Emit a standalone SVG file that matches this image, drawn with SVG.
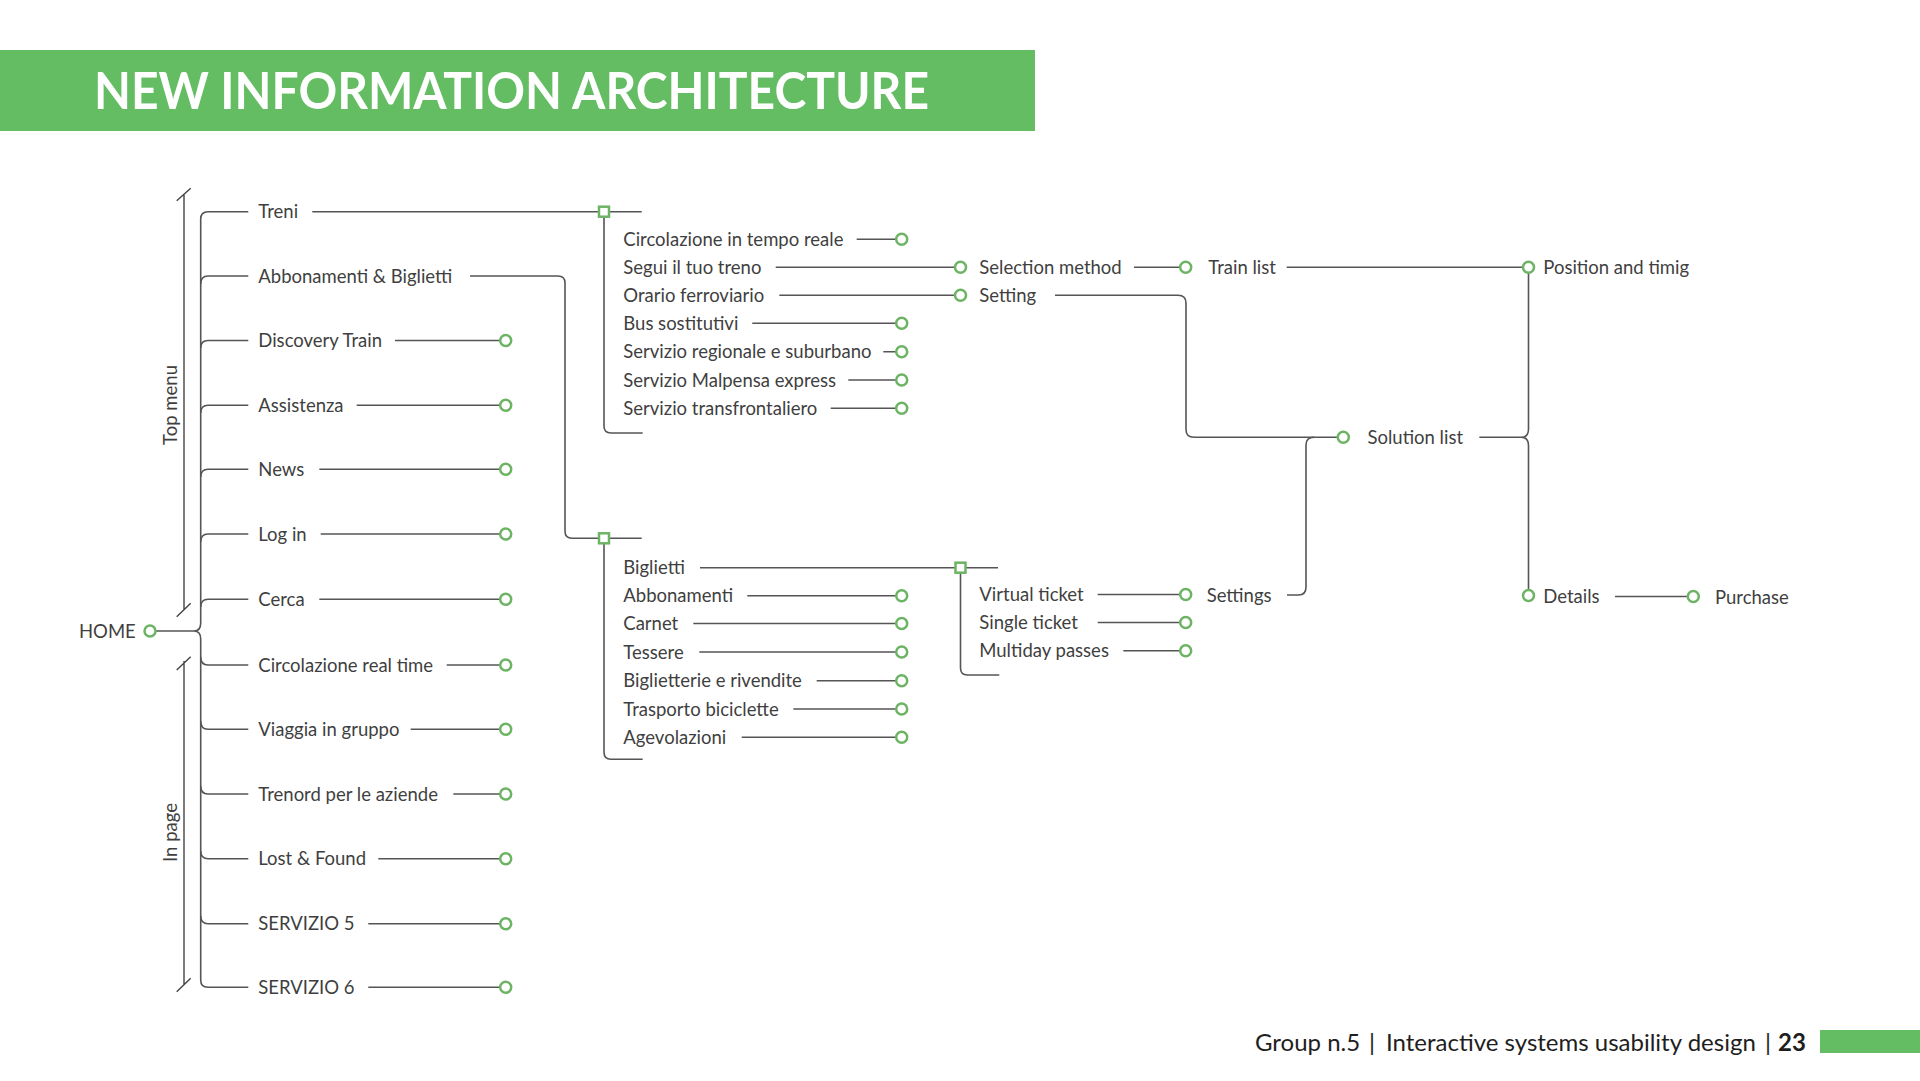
<svg xmlns="http://www.w3.org/2000/svg" width="1920" height="1081" viewBox="0 0 1920 1081">
<style>
text{font-family:Lato,"Open Sans","Liberation Sans",sans-serif;fill:#3f3f3f;font-size:18.5px}
.ln{fill:none;stroke:#555;stroke-width:1.6}
.br{fill:none;stroke:#444;stroke-width:1.4}
.c{fill:#fff;stroke:#6cb464;stroke-width:2.5}
.bx{fill:#fff;stroke:#6cb464;stroke-width:2.5}
.title{font-size:52px;font-weight:700;fill:#fff}
.foot{font-size:24px;fill:#1e1e1e}
</style>
<rect width="1920" height="1081" fill="#fff"/>
<rect x="0" y="50" width="1035" height="81" fill="#64bd63"/>
<text class="title" x="94" y="109" textLength="835" lengthAdjust="spacingAndGlyphs">NEW INFORMATION ARCHITECTURE</text>

<g id="connectors">
  <path class="br" d="M184,194 L184,610 M176.7,200.7 L190.7,188.3 M176.7,616.7 L190.7,603.3"/>
  <path class="br" d="M184,661 L184,985 M176.7,670 L190.7,656.7 M176.7,991.7 L190.7,978.3"/>
  <path class="ln" d="M208,211.7 Q200.7,211.7 200.7,219 L200.7,623 Q200.7,631 194,631 Q200.7,631 200.7,639 L200.7,980 Q200.7,987.3 208,987.3 L248.3,987.3"/>
  <path class="ln" d="M155.5,631 L194,631"/>
  <path class="ln" d="M208,211.7 L248.3,211.7"/>
  <path class="ln" d="M200.7,284 Q200.7,276 208,276 L248.3,276"/>
  <path class="ln" d="M200.7,348 Q200.7,340.5 208,340.5 L248.3,340.5"/>
  <path class="ln" d="M200.7,413 Q200.7,405.3 208,405.3 L248.3,405.3"/>
  <path class="ln" d="M200.7,477 Q200.7,469.3 208,469.3 L248.3,469.3"/>
  <path class="ln" d="M200.7,542 Q200.7,534 208,534 L248.3,534"/>
  <path class="ln" d="M200.7,607 Q200.7,599.3 208,599.3 L248.3,599.3"/>
  <path class="ln" d="M200.7,657 Q200.7,665 208,665 L248.3,665"/>
  <path class="ln" d="M200.7,721 Q200.7,729.3 208,729.3 L248.3,729.3"/>
  <path class="ln" d="M200.7,786 Q200.7,794 208,794 L248.3,794"/>
  <path class="ln" d="M200.7,851 Q200.7,858.7 208,858.7 L248.3,858.7"/>
  <path class="ln" d="M200.7,916 Q200.7,923.7 208,923.7 L248.3,923.7"/>
  <path class="ln" d="M395,340.5 L500.2,340.5 M356.7,405.3 L500.2,405.3 M319.3,469.3 L500.2,469.3 M320.7,534 L500.2,534 M319.3,599.3 L500.2,599.3 M446.7,665 L500.2,665 M410.7,729.3 L500.2,729.3 M453.3,794 L500.2,794 M378.3,858.7 L500.2,858.7 M368.3,923.7 L500.2,923.7 M368.3,987.3 L500.2,987.3"/>
  <path class="ln" d="M312.3,211.7 L599,211.7 M609,211.7 L641.7,211.7 M604,216.7 L604,426 Q604,433 611,433 L642.7,433"/>
  <path class="ln" d="M470,276 L558,276 Q565,276 565,283 L565,531 Q565,538.3 572,538.3 L599,538.3 M609,538.3 L641.7,538.3 M604,543.3 L604,752 Q604,759.3 611,759.3 L642.7,759.3"/>
  <path class="ln" d="M856.7,239.3 L896.2,239.3 M775.7,267.3 L955,267.3 M779.3,295.3 L955,295.3 M752.3,323.3 L896.2,323.3 M883.3,351.7 L896.2,351.7 M848.3,380 L896.2,380 M830.7,408.3 L896.2,408.3"/>
  <path class="ln" d="M700,567.7 L955.5,567.7 M965.5,567.7 L998,567.7 M960.5,572.7 L960.5,668 Q960.5,675 967.5,675 L999.3,675"/>
  <path class="ln" d="M747.3,595.7 L896.2,595.7 M693.3,623.5 L896.2,623.5 M699.3,652 L896.2,652 M816.7,680.7 L896.2,680.7 M793.3,709 L896.2,709 M741.7,737.3 L896.2,737.3"/>
  <path class="ln" d="M1097.7,594.5 L1180.2,594.5 M1097.7,622.5 L1180.2,622.5 M1123.3,650.7 L1180.2,650.7"/>
  <path class="ln" d="M1134,267.3 L1180.2,267.3 M1286.7,267.3 L1523,267.3"/>
  <path class="ln" d="M1055,295.3 L1178,295.3 Q1186,295.3 1186,303 L1186,429.5 Q1186,437.3 1194,437.3 L1337.8,437.3"/>
  <path class="ln" d="M1287,595 L1298.5,595 Q1306,595 1306,587 L1306,445 Q1306,437.3 1314,437.3"/>
  <path class="ln" d="M1479.3,437.3 L1521,437.3"/>
  <path class="ln" d="M1528.5,272.8 L1528.5,429 Q1528.5,437.3 1521,437.3 Q1528.5,437.3 1528.5,445.5 L1528.5,590"/>
  <path class="ln" d="M1615,596.5 L1687.8,596.5"/>
</g>

<g id="brackets-labels">
  <text transform="translate(176.5,405) rotate(-90)" text-anchor="middle">Top menu</text>
  <text transform="translate(176.5,832.5) rotate(-90)" text-anchor="middle">In page</text>
</g>

<g id="home"><text x="79" y="637.5">HOME</text><circle class="c" cx="150" cy="631" r="5.5"/></g>

<g id="treni"><text x="258.3" y="218.2">Treni</text><rect class="bx" x="599" y="206.7" width="10" height="10"/></g>
<g id="abbonamenti-biglietti"><text x="258.3" y="282.5">Abbonamenti &amp; Biglietti</text><rect class="bx" x="599" y="533.3" width="10" height="10"/></g>
<g id="discovery-train"><text x="258.3" y="347">Discovery Train</text><circle class="c" cx="505.7" cy="340.5" r="5.5"/></g>
<g id="assistenza"><text x="258.3" y="411.8">Assistenza</text><circle class="c" cx="505.7" cy="405.3" r="5.5"/></g>
<g id="news"><text x="258.3" y="475.8">News</text><circle class="c" cx="505.7" cy="469.3" r="5.5"/></g>
<g id="log-in"><text x="258.3" y="540.5">Log in</text><circle class="c" cx="505.7" cy="534" r="5.5"/></g>
<g id="cerca"><text x="258.3" y="605.8">Cerca</text><circle class="c" cx="505.7" cy="599.3" r="5.5"/></g>
<g id="circolazione-real-time"><text x="258.3" y="671.5">Circolazione real time</text><circle class="c" cx="505.7" cy="665" r="5.5"/></g>
<g id="viaggia-in-gruppo"><text x="258.3" y="735.8">Viaggia in gruppo</text><circle class="c" cx="505.7" cy="729.3" r="5.5"/></g>
<g id="trenord-aziende"><text x="258.3" y="800.5">Trenord per le aziende</text><circle class="c" cx="505.7" cy="794" r="5.5"/></g>
<g id="lost-found"><text x="258.3" y="865.2">Lost &amp; Found</text><circle class="c" cx="505.7" cy="858.7" r="5.5"/></g>
<g id="servizio-5"><text x="258.3" y="930.2">SERVIZIO 5</text><circle class="c" cx="505.7" cy="923.7" r="5.5"/></g>
<g id="servizio-6"><text x="258.3" y="993.8">SERVIZIO 6</text><circle class="c" cx="505.7" cy="987.3" r="5.5"/></g>

<g id="circolazione-tempo-reale"><text x="623.3" y="245.8">Circolazione in tempo reale</text><circle class="c" cx="901.7" cy="239.3" r="5.5"/></g>
<g id="segui-treno"><text x="623.3" y="273.8">Segui il tuo treno</text></g>
<g id="orario-ferroviario"><text x="623.3" y="301.8">Orario ferroviario</text></g>
<g id="bus-sostitutivi"><text x="623.3" y="329.8">Bus sostitutivi</text><circle class="c" cx="901.7" cy="323.3" r="5.5"/></g>
<g id="servizio-regionale"><text x="623.3" y="358.2">Servizio regionale e suburbano</text><circle class="c" cx="901.7" cy="351.7" r="5.5"/></g>
<g id="servizio-malpensa"><text x="623.3" y="386.5">Servizio Malpensa express</text><circle class="c" cx="901.7" cy="380" r="5.5"/></g>
<g id="servizio-transfrontaliero"><text x="623.3" y="414.8">Servizio transfrontaliero</text><circle class="c" cx="901.7" cy="408.3" r="5.5"/></g>

<g id="biglietti"><text x="623.3" y="574.2">Biglietti</text><rect class="bx" x="955.5" y="562.7" width="10" height="10"/></g>
<g id="abbonamenti"><text x="623.3" y="602.2">Abbonamenti</text><circle class="c" cx="901.7" cy="595.7" r="5.5"/></g>
<g id="carnet"><text x="623.3" y="630">Carnet</text><circle class="c" cx="901.7" cy="623.5" r="5.5"/></g>
<g id="tessere"><text x="623.3" y="658.5">Tessere</text><circle class="c" cx="901.7" cy="652" r="5.5"/></g>
<g id="biglietterie"><text x="623.3" y="687.2">Biglietterie e rivendite</text><circle class="c" cx="901.7" cy="680.7" r="5.5"/></g>
<g id="trasporto-biciclette"><text x="623.3" y="715.5">Trasporto biciclette</text><circle class="c" cx="901.7" cy="709" r="5.5"/></g>
<g id="agevolazioni"><text x="623.3" y="743.8">Agevolazioni</text><circle class="c" cx="901.7" cy="737.3" r="5.5"/></g>

<g id="selection-method"><circle class="c" cx="960.5" cy="267.3" r="5.5"/><text x="979.3" y="273.8">Selection method</text></g>
<g id="setting"><circle class="c" cx="960.5" cy="295.3" r="5.5"/><text x="979.3" y="301.8">Setting</text></g>
<g id="virtual-ticket"><text x="979.3" y="601">Virtual ticket</text><circle class="c" cx="1185.7" cy="594.5" r="5.5"/></g>
<g id="single-ticket"><text x="979.3" y="629">Single ticket</text><circle class="c" cx="1185.7" cy="622.5" r="5.5"/></g>
<g id="multiday-passes"><text x="979.3" y="657.2">Multiday passes</text><circle class="c" cx="1185.7" cy="650.7" r="5.5"/></g>

<g id="train-list"><circle class="c" cx="1185.7" cy="267.3" r="5.5"/><text x="1208.3" y="273.8">Train list</text></g>
<g id="settings"><text x="1206.7" y="601.5">Settings</text></g>
<g id="solution-list"><circle class="c" cx="1343.3" cy="437.3" r="5.5"/><text x="1367.5" y="443.8">Solution list</text></g>
<g id="position-timig"><circle class="c" cx="1528.5" cy="267.3" r="5.5"/><text x="1543.3" y="273.8">Position and timig</text></g>
<g id="details"><circle class="c" cx="1528.5" cy="595.5" r="5.5"/><text x="1543.3" y="603">Details</text></g>
<g id="purchase"><circle class="c" cx="1693.3" cy="596.5" r="5.5"/><text x="1715" y="603.5">Purchase</text></g>

<g id="footer">
  <text class="foot" x="1255" y="1050.5">Group n.5</text>
  <text class="foot" x="1369" y="1050.5">|</text>
  <text class="foot" x="1386" y="1050.5">Interactive systems usability design</text>
  <text class="foot" x="1765" y="1050.5">|</text>
  <text class="foot" x="1778" y="1050.5" font-weight="700">23</text>
  <rect x="1820" y="1030" width="100" height="23" fill="#64bd63"/>
</g>
</svg>
